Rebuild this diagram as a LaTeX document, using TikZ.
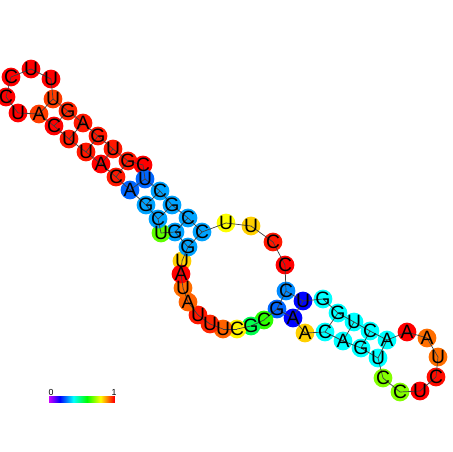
\PassOptionsToPackage{rgb}{xcolor}
\documentclass[tikz,border=0pt]{standalone}
\usepackage{fontspec}
\setmainfont{Liberation Sans}
\usetikzlibrary{positioning}

\begin{document}
\begin{tikzpicture}[x=0.02cm,y=-0.02cm,
		nt/.style={circle,inner sep=0pt,minimum size=0.375cm},
		bond/.style={draw=black!75,line width=0.4pt},
		letter/.style={inner sep=0pt,font=\fontsize{11}{11}\selectfont}]
	\useasboundingbox (0,0) rectangle (452,452);
	% index/x/y/base/value
	\def\bases{1/182/261/U/0.83, 2/188/247/G/0.3, 3/175/232/G/0.3, 4/161/233/U/0.66,
		5/158/219/C/0.3, 6/146/205/G/0.3, 7/130/190/A/0.25, 8/116/177/C/0.98,
		9/101/164/A/1, 10/86/152/U/0.98, 11/69/139/U/0.98, 12/54/126/C/1,
		13/39/114/A/0.95, 14/18/113/U/1, 15/6/97/C/1, 16/11/77/C/1,
		17/31/69/U/1, 18/51/79/U/1, 19/53/99/U/0.95, 20/68/111/G/0.97,
		21/83/123/A/0.98, 22/98/136/G/0.98, 23/113/149/U/0.98, 24/128/161/G/0.98,
		25/143/165/C/1, 26/145/179/U/0.25, 27/160/191/C/0.3, 28/172/205/G/0.3,
		29/188/218/C/0.3, 30/202/232/C/0.3, 31/226/223/U/0.79, 32/251/226/U/0.83,
		33/273/242/C/0.98, 34/285/265/C/1, 35/286/291/C/0.28, 36/303/301/U/0.17,
		37/323/299/G/0.375, 38/338/313/G/0.375, 39/354/322/U/0.375, 40/370/331/C/0.375,
		41/387/340/A/0.375, 42/407/332/A/1, 43/427/338/A/0.91, 44/438/357/U/0.91,
		45/436/377/C/0.99, 46/420/391/U/1, 47/400/392/C/0.69, 48/383/378/C/0.69,
		49/378/358/U/0.375, 50/361/348/G/0.375, 51/343/341/A/0.375, 52/325/332/C/0.375,
		53/305/333/A/0.83, 54/293/318/A/0.17, 55/277/309/G/0.25, 56/264/320/C/0.62,
		57/251/326/G/0.52, 58/237/329/C/0.8, 59/223/329/U/0.92, 60/210/324/U/0.97,
		61/198/315/U/0.98, 62/188/302/A/0.92, 63/183/288/U/0.91, 64/181/274/A/1}
	% circles
	\foreach \i/\x/\y/\b/\v in \bases {
		\pgfmathsetmacro\h{0.8*(1-\v)}
		\definecolor{ntc}{hsb}{\h,1,1}
		\node[nt,fill=ntc] (b\i) at (\x,\y) {};
	}
	% backbone
	\foreach \i in {1,...,63} {
		\pgfmathtruncatemacro\j{\i+1}
		\draw[bond] (b\i.center) -- (b\j.center);
	}
	\draw[bond] (b64.center) -- (b1.center);
	% pairs
	\foreach \i/\j in {13/19,12/20,11/21,10/22,9/23,8/24,7/26,6/27,5/28,3/29,2/30,
		35/55,36/54,38/52,39/51,40/50,41/49} {
		\draw[bond] (b\i.center) -- (b\j.center);
	}
	% letters
	\foreach \i/\x/\y/\b/\v in \bases {
		\node[letter] (t\i) at (b\i) {\b};
	}
	% colour scale
	\foreach \k in {0,...,65} {
		\pgfmathsetmacro\h{0.8*(1-\k/65)}
		\definecolor{barc}{hsb}{\h,1,1}
		\fill[barc] (49+\k,396) rectangle (50.2+\k,403);
	}
	\node[font=\fontsize{5}{5}\selectfont,inner sep=0pt] (lo) at (51,392) {0};
	\node[font=\fontsize{5}{5}\selectfont,inner sep=0pt] (hi) at (114,392) {1};
\end{tikzpicture}
\end{document}
